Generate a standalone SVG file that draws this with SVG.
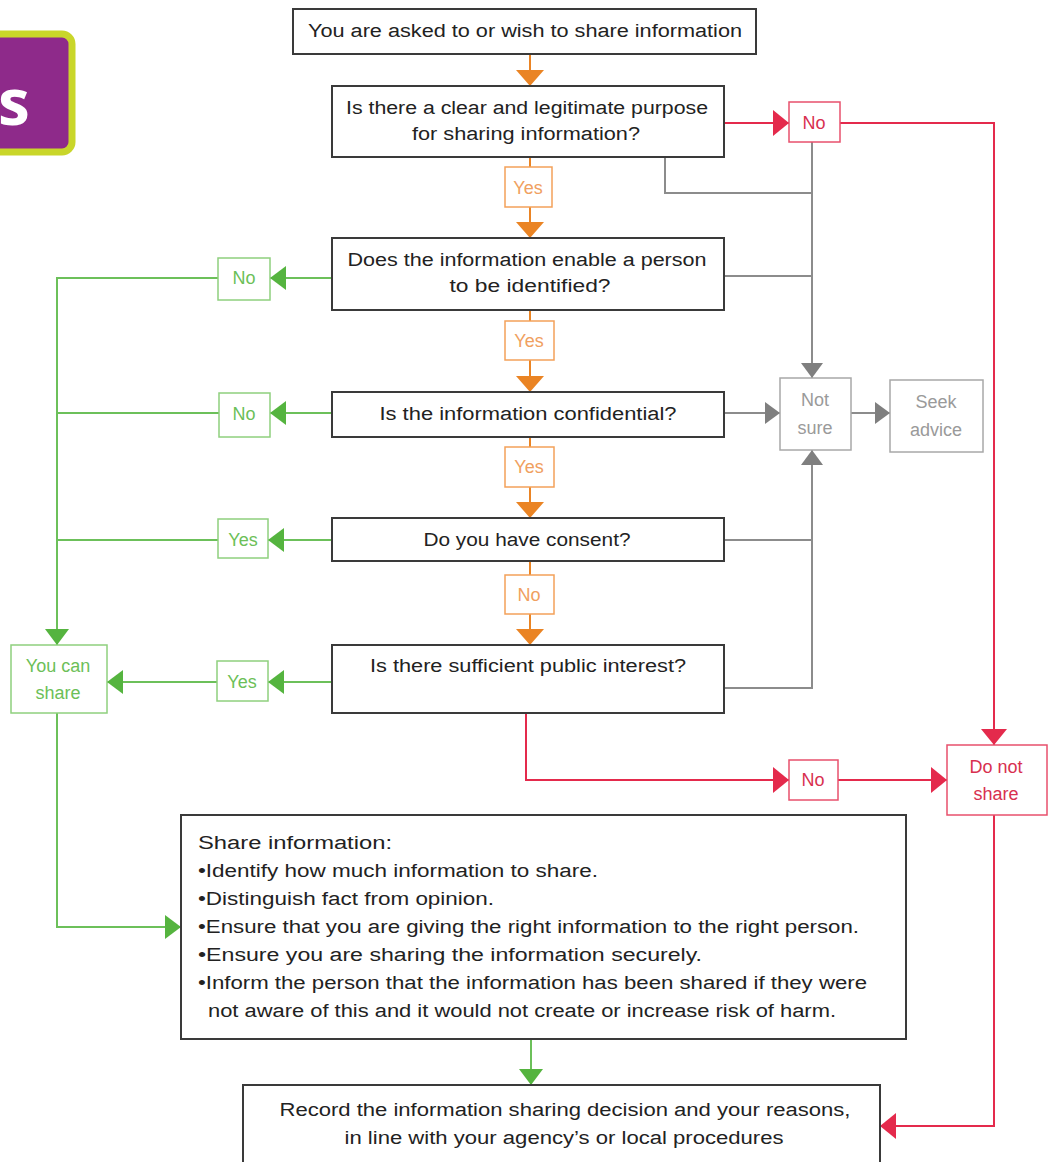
<svg xmlns="http://www.w3.org/2000/svg" width="1052" height="1162" viewBox="0 0 1052 1162">
<defs>
<style>
.box{fill:#fff;stroke:#3a3a3a;stroke-width:2}
.t{font-family:"Liberation Sans",Arial,sans-serif;font-size:18px;fill:#222;text-anchor:middle;dominant-baseline:central}
.tl{font-family:"Liberation Sans",Arial,sans-serif;font-size:18px;fill:#222;dominant-baseline:central}
.ob{fill:#fff;stroke:#f3a15a;stroke-width:1.5}
.rb{fill:#fff;stroke:#e8506c;stroke-width:1.5}
.gb{fill:#fff;stroke:#8fd07e;stroke-width:1.5}
.yb{fill:#fff;stroke:#a8a8a8;stroke-width:1.5}
.ot{fill:#f0a060}.rt{fill:#d8304f}.gt{fill:#6cbf58}.yt{fill:#9a9a9a}
.co{stroke:#ea8424;stroke-width:2;fill:none}
.cr{stroke:#e42a4c;stroke-width:2;fill:none}
.cg{stroke:#6cc05a;stroke-width:2;fill:none}
.cy{stroke:#8c8c8c;stroke-width:2;fill:none}
</style>
<marker id="ao" markerUnits="userSpaceOnUse" markerWidth="16" markerHeight="28" refX="16" refY="14" orient="auto"><path d="M0,0 L16,14 L0,28 z" fill="#ea8424"/></marker>
<marker id="ar" markerUnits="userSpaceOnUse" markerWidth="16" markerHeight="26" refX="16" refY="13" orient="auto"><path d="M0,0 L16,13 L0,26 z" fill="#e42a4c"/></marker>
<marker id="ag" markerUnits="userSpaceOnUse" markerWidth="16" markerHeight="24" refX="16" refY="12" orient="auto"><path d="M0,0 L16,12 L0,24 z" fill="#55b43f"/></marker>
<marker id="ay" markerUnits="userSpaceOnUse" markerWidth="15" markerHeight="22" refX="15" refY="11" orient="auto"><path d="M0,0 L15,11 L0,22 z" fill="#7f7f7f"/></marker>
</defs>
<rect width="1052" height="1162" fill="#fff"/>

<g id="badge">
<rect x="-20" y="34" width="92" height="118" rx="10" fill="#8e2a8a" stroke="#c9d62a" stroke-width="7"/>
<text x="14" y="100" font-family="Open Sans,Noto Sans,sans-serif" font-weight="bold" font-size="64" fill="#fff" text-anchor="middle" dominant-baseline="central">s</text>
</g>

<g id="connectors">
<path class="co" d="M530,54 V86" marker-end="url(#ao)"/>
<path class="co" d="M530,157 V167"/>
<path class="co" d="M530,207 V238" marker-end="url(#ao)"/>
<path class="co" d="M530,310 V321"/>
<path class="co" d="M530,360 V392" marker-end="url(#ao)"/>
<path class="co" d="M530,437 V447"/>
<path class="co" d="M530,487 V518" marker-end="url(#ao)"/>
<path class="co" d="M530,561 V575"/>
<path class="co" d="M530,614 V645" marker-end="url(#ao)"/>

<path class="cr" d="M724,123 H789" marker-end="url(#ar)"/>
<path class="cr" d="M840,123 H994 V745" marker-end="url(#ar)"/>
<path class="cr" d="M526,713 V780 H789" marker-end="url(#ar)"/>
<path class="cr" d="M838,780 H947" marker-end="url(#ar)"/>
<path class="cr" d="M994,815 V1126 H880" marker-end="url(#ar)"/>

<path class="cy" d="M812,142 V378" marker-end="url(#ay)"/>
<path class="cy" d="M665,157 V193 H812"/>
<path class="cy" d="M724,276 H812"/>
<path class="cy" d="M724,413 H780" marker-end="url(#ay)"/>
<path class="cy" d="M851,413 H890" marker-end="url(#ay)"/>
<path class="cy" d="M724,540 H812"/>
<path class="cy" d="M724,688 H812 V450" marker-end="url(#ay)"/>

<path class="cg" d="M332,278 H270" marker-end="url(#ag)"/>
<path class="cg" d="M218,278 H57 V645" marker-end="url(#ag)"/>
<path class="cg" d="M332,413 H270" marker-end="url(#ag)"/>
<path class="cg" d="M219,413 H57"/>
<path class="cg" d="M332,540 H268" marker-end="url(#ag)"/>
<path class="cg" d="M218,540 H57"/>
<path class="cg" d="M332,682 H268" marker-end="url(#ag)"/>
<path class="cg" d="M217,682 H107" marker-end="url(#ag)"/>
<path class="cg" d="M57,713 V927 H181" marker-end="url(#ag)"/>
<path class="cg" d="M531,1039 V1085" marker-end="url(#ag)"/>
</g>

<g id="n-start">
<rect class="box" x="293" y="9" width="463" height="45"/>
<text class="t" x="525" y="31" textLength="434" lengthAdjust="spacingAndGlyphs">You are asked to or wish to share information</text>
</g>
<g id="n-purpose">
<rect class="box" x="332" y="86" width="392" height="71"/>
<text class="t" x="527" y="108" textLength="362" lengthAdjust="spacingAndGlyphs">Is there a clear and legitimate purpose</text>
<text class="t" x="526" y="134" textLength="228" lengthAdjust="spacingAndGlyphs">for sharing information?</text>
</g>
<g id="n-identified">
<rect class="box" x="332" y="238" width="392" height="72"/>
<text class="t" x="527" y="260" textLength="359" lengthAdjust="spacingAndGlyphs">Does the information enable a person</text>
<text class="t" x="530" y="286" textLength="161" lengthAdjust="spacingAndGlyphs">to be identified?</text>
</g>
<g id="n-confidential">
<rect class="box" x="332" y="392" width="392" height="45"/>
<text class="t" x="528" y="414" textLength="297" lengthAdjust="spacingAndGlyphs">Is the information confidential?</text>
</g>
<g id="n-consent">
<rect class="box" x="332" y="518" width="392" height="43"/>
<text class="t" x="527" y="540" textLength="207" lengthAdjust="spacingAndGlyphs">Do you have consent?</text>
</g>
<g id="n-public">
<rect class="box" x="332" y="645" width="392" height="68"/>
<text class="t" x="528" y="666" textLength="316" lengthAdjust="spacingAndGlyphs">Is there sufficient public interest?</text>
</g>

<g id="l-yes1"><rect class="ob" x="505" y="167" width="47" height="40"/><text class="t ot" x="528" y="188">Yes</text></g>
<g id="l-yes2"><rect class="ob" x="505" y="321" width="49" height="39"/><text class="t ot" x="529" y="341">Yes</text></g>
<g id="l-yes3"><rect class="ob" x="505" y="447" width="49" height="40"/><text class="t ot" x="529" y="467">Yes</text></g>
<g id="l-no-consent"><rect class="ob" x="505" y="575" width="49" height="39"/><text class="t ot" x="529" y="595">No</text></g>

<g id="l-no-purpose"><rect class="rb" x="789" y="102" width="51" height="40"/><text class="t rt" x="814" y="123">No</text></g>
<g id="l-no-public"><rect class="rb" x="789" y="760" width="49" height="40"/><text class="t rt" x="813" y="780">No</text></g>
<g id="n-donotshare"><rect class="rb" x="947" y="745" width="100" height="70"/><text class="t rt" x="996" y="767">Do not</text><text class="t rt" x="996" y="794">share</text></g>

<g id="n-notsure"><rect class="yb" x="780" y="378" width="71" height="72"/><text class="t yt" x="815" y="400">Not</text><text class="t yt" x="815" y="428">sure</text></g>
<g id="n-seekadvice"><rect class="yb" x="890" y="380" width="93" height="72"/><text class="t yt" x="936" y="402">Seek</text><text class="t yt" x="936" y="430">advice</text></g>

<g id="l-no-identified"><rect class="gb" x="218" y="258" width="52" height="42"/><text class="t gt" x="244" y="278">No</text></g>
<g id="l-no-confidential"><rect class="gb" x="219" y="393" width="51" height="44"/><text class="t gt" x="244" y="414">No</text></g>
<g id="l-yes-consent"><rect class="gb" x="218" y="519" width="50" height="39"/><text class="t gt" x="243" y="540">Yes</text></g>
<g id="l-yes-public"><rect class="gb" x="217" y="661" width="51" height="40"/><text class="t gt" x="242" y="682">Yes</text></g>
<g id="n-youcanshare"><rect class="gb" x="11" y="645" width="96" height="68"/><text class="t gt" x="58" y="666">You can</text><text class="t gt" x="58" y="693">share</text></g>

<g id="n-shareinfo">
<rect class="box" x="181" y="815" width="725" height="224" stroke="#555"/>
<text class="tl" x="198" y="843" textLength="194" lengthAdjust="spacingAndGlyphs">Share information:</text>
<text class="tl" x="198" y="871" textLength="400" lengthAdjust="spacingAndGlyphs">•Identify how much information to share.</text>
<text class="tl" x="198" y="899" textLength="296" lengthAdjust="spacingAndGlyphs">•Distinguish fact from opinion.</text>
<text class="tl" x="198" y="927" textLength="661" lengthAdjust="spacingAndGlyphs">•Ensure that you are giving the right information to the right person.</text>
<text class="tl" x="198" y="955" textLength="504" lengthAdjust="spacingAndGlyphs">•Ensure you are sharing the information securely.</text>
<text class="tl" x="198" y="983" textLength="669" lengthAdjust="spacingAndGlyphs">•Inform the person that the information has been shared if they were</text>
<text class="tl" x="208" y="1011" textLength="628" lengthAdjust="spacingAndGlyphs">not aware of this and it would not create or increase risk of harm.</text>
</g>

<g id="n-record">
<rect class="box" x="243" y="1085" width="637" height="90"/>
<text class="t" x="565" y="1110" textLength="571" lengthAdjust="spacingAndGlyphs">Record the information sharing decision and your reasons,</text>
<text class="t" x="564" y="1138" textLength="439" lengthAdjust="spacingAndGlyphs">in line with your agency’s or local procedures</text>
</g>
</svg>
